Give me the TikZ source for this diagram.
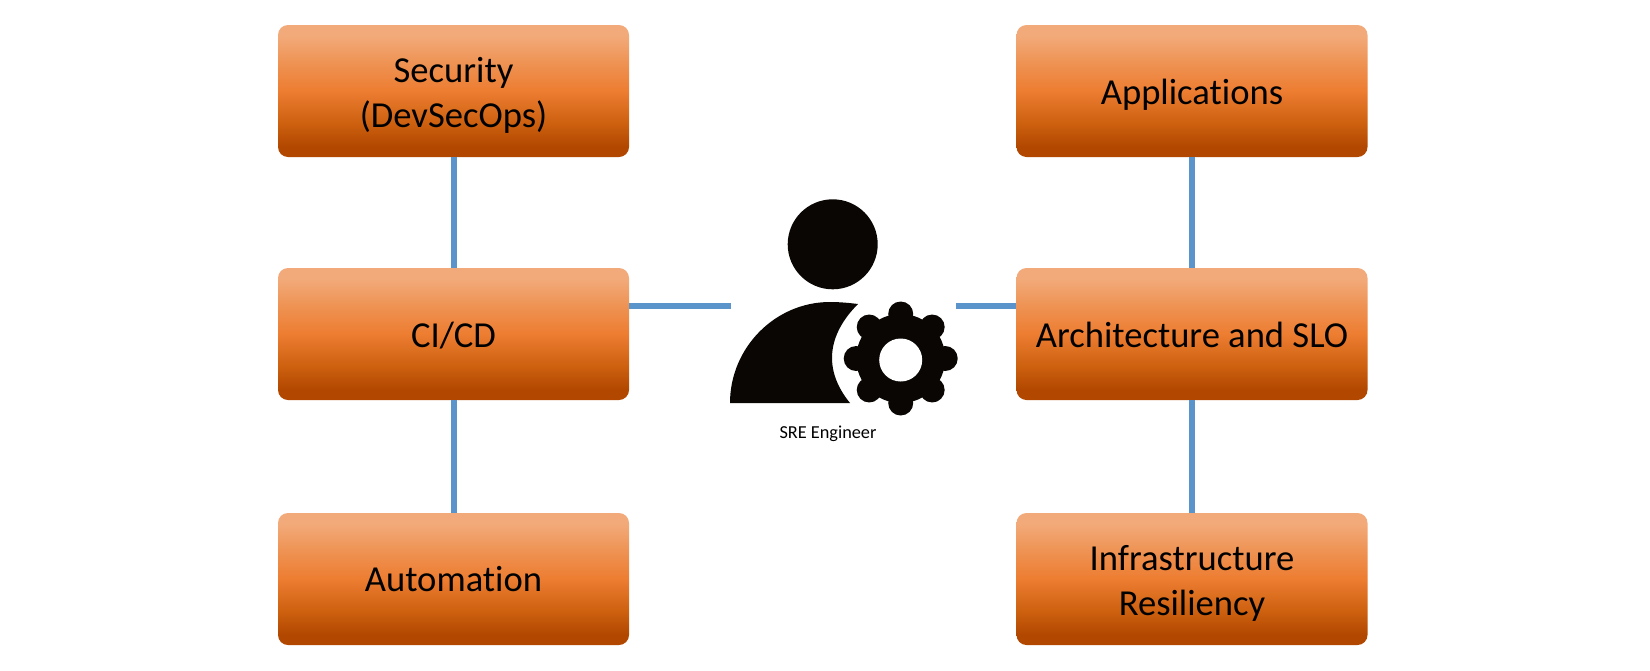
\documentclass[tikz,border=0pt]{standalone}
\usepackage{fontspec}
\setmainfont[RawFeature={-liga}]{Carlito}
\definecolor{boxt}{HTML}{F2AA7A}
\definecolor{boxm}{HTML}{EE8F4E}
\definecolor{boxa}{HTML}{ED7D31}
\definecolor{boxb}{HTML}{CC600F}
\definecolor{boxc}{HTML}{B24700}
\definecolor{linkblue}{HTML}{5B93CB}
\definecolor{iconblack}{HTML}{0A0604}
\pgfdeclareverticalshading{orangebox}{100bp}{
  color(0bp)=(boxc); color(29bp)=(boxc); color(37.5bp)=(boxb); color(50bp)=(boxa); color(59bp)=(boxm); color(71bp)=(boxt); color(100bp)=(boxt)}
\newcommand{\lift}[1]{\rule{0pt}{#1pt}}
\tikzset{
  x=1pt,y=-1pt,
  box/.style={rectangle,rounded corners=10pt,minimum width=351pt,minimum height=132pt,
    shading=orangebox,inner sep=0pt,align=center,font=\fontsize{36.6}{45}\selectfont,text=black},
  link/.style={draw=linkblue,line width=6pt},
  icon/.style={fill=iconblack,draw=none}
}
\begin{document}
\begin{tikzpicture}
\useasboundingbox (0,0) rectangle (1650,670);
\node[box] (sec) at (453.5,91) {\lift{33}Security\\(DevSecOps)};
\node[box] (cicd) at (453.5,334) {\lift{28}CI/CD};
\node[box] (auto) at (453.5,579) {Automation};
\node[box] (app) at (1192,91) {\lift{33}Applications};
\node[box] (arch) at (1192,334) {\lift{28}Architecture and SLO};
\node[box] (infra) at (1192,579) {\lift{33}Infrastructure\\Resiliency};
\coordinate (pl) at (731,306);
\coordinate (pr) at (956,306);
\draw[link] (sec) -- (cicd);
\draw[link] (cicd) -- (auto);
\draw[link] (app) -- (arch);
\draw[link] (arch) -- (infra);
\draw[link] (cicd.east |- pl) -- (pl);
\draw[link] (arch.west |- pr) -- (pr);
% person
\fill[icon] (832.7,244.3) circle[radius=45];
\fill[icon] (730,403) .. controls (730,347.8) and (775,302) .. (830,302)
  .. controls (840,302) and (850,303) .. (858,304)
  .. controls (827,335) and (823,370) .. (850,403) -- cycle;
% gear
\fill[icon] (900.7,358.5) circle[radius=44.5];
\foreach \a in {0,45,...,315}
  \fill[icon] (900.7,358.5) ++(\a:44.5) circle[radius=12.5];
\fill[white] (900.7,360) circle[radius=21.5];
\node[inner sep=0pt,font=\fontsize{18.3}{20}\selectfont] (lbl) at (828,433.5) {SRE Engineer};
\end{tikzpicture}
\end{document}
